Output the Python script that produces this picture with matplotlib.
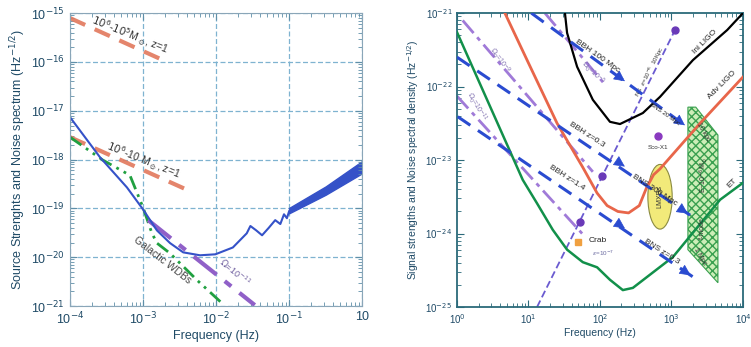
import numpy as np
import matplotlib.pyplot as plt
from matplotlib.patches import Ellipse, Polygon

plt.rcParams['font.family'] = ['Liberation Sans', 'DejaVu Sans']
plt.rcParams['mathtext.fontset'] = 'dejavusans'

# all values as log10(f) / log10(h)

# ---- left panel: LISA band
lisa_logf = [-4.0, -3.59, -3.22, -3.0, -2.81, -2.63, -2.45, -2.22, -2.01, -1.77, -1.58,
             -1.53, -1.45, -1.37, -1.28, -1.19, -1.12, -1.07, -1.03, -1.0]
lisa_logh = [-17.13, -17.95, -18.57, -19.02, -19.45, -19.71, -19.9, -19.96, -19.94, -19.8, -19.51,
             -19.36, -19.45, -19.55, -19.4, -19.24, -19.32, -19.12, -19.2, -19.06]
band_logf = [-1.0, -0.5, 0.0]
band_hi = [-18.99, -18.55, -18.03]
band_lo = [-19.1, -18.72, -18.28]

wdb_logf = [-4.0, -3.55, -3.18, -3.0, -2.88, -2.81, -2.63, -2.26, -1.92]
wdb_logh = [-17.54, -18.01, -18.32, -18.98, -19.5, -19.71, -19.92, -20.47, -20.94]

omega_l_logf = [-2.93, -1.47]
omega_l_logh = [-19.24, -20.98]

smbh_hi_logf = [-4.0, -2.67]
smbh_hi_logh = [-15.1, -16.0]
smbh_lo_logf = [-4.0, -2.38]
smbh_lo_logh = [-17.54, -18.63]

# ---- right panel: ground based band
ini_logf = [1.51, 1.54, 1.68, 1.9, 2.14, 2.28, 2.6, 2.84, 3.3, 3.78, 4.0]
ini_logh = [-21.0, -21.27, -21.73, -22.18, -22.48, -22.51, -22.36, -22.14, -21.64, -21.23, -21.0]

adv_logf = [0.67, 1.0, 1.4, 1.76, 1.96, 2.1, 2.25, 2.4, 2.55, 2.65, 2.75, 2.84, 3.4, 4.0]
adv_logh = [-21.0, -21.68, -22.5, -23.1, -23.45, -23.62, -23.7, -23.72, -23.62, -23.38, -23.2,
            -23.12, -22.5, -21.87]

et_logf = [0.0, 0.92, 1.12, 1.34, 1.54, 1.76, 1.96, 2.14, 2.32, 2.46, 3.02, 3.68, 4.0]
et_logh = [-21.26, -23.27, -23.59, -23.95, -24.22, -24.39, -24.46, -24.63, -24.77, -24.74,
           -24.32, -23.54, -23.31]

bbh100_logf = [1.04, 3.22]
bbh100_logh = [-21.0, -22.55]
bbh03_logf = [0.0, 3.26]
bbh03_logh = [-21.6, -23.75]
bbh14_logf = [0.01, 3.3]
bbh14_logh = [-22.41, -24.59]
arrow_pts = [(2.38, -21.95, bbh100_logf, bbh100_logh), (3.22, -22.55, bbh100_logf, bbh100_logh),
             (2.38, -23.11, bbh03_logf, bbh03_logh), (3.26, -23.75, bbh03_logf, bbh03_logh),
             (2.38, -23.95, bbh14_logf, bbh14_logh), (3.3, -24.59, bbh14_logf, bbh14_logh)]

omega_r = [([0.08, 1.9], [-21.1, -23.16]),
           ([0.0, 1.75], [-22.13, -24.0]),
           ([1.23, 2.05], [-21.0, -21.95])]

ns_logf = [1.12, 3.05]
ns_logh = [-25.0, -21.23]
ns_dot_logf = [3.05, 2.03, 1.72]
ns_dot_logh = [-21.23, -23.22, -23.84]

sco_logf, sco_logh = 2.81, -22.67
crab_logf, crab_logh = 1.69, -24.12
lmxb_logf, lmxb_logh = 2.84, -23.5
fmode_logf = [3.23, 3.34, 3.65, 3.65, 3.23]
fmode_logh = [-22.28, -22.28, -22.66, -24.67, -24.22]


def p(a):
    return np.power(10.0, np.array(a, dtype=float))


tick_col = '#1f4a66'
fig = plt.figure(figsize=(7.51, 3.47), dpi=100)

# ------------------------- left
ax1 = fig.add_axes([0.0932, 0.118, 0.389, 0.844])
ax1.set_xscale('log')
ax1.set_yscale('log')
ax1.set_xlim(1e-4, 1)
ax1.set_ylim(1e-21, 1e-15)
for lv in range(-4, 1):
    ax1.axvline(10.0 ** lv, color='#7fb3d0', lw=0.9, ls=(0, (4, 2)), zorder=0)
for lv in range(-21, -14):
    ax1.axhline(10.0 ** lv, color='#7fb3d0', lw=0.9, ls=(0, (4, 2)), zorder=0)

ax1.plot(p(smbh_hi_logf), p(smbh_hi_logh), color='#e2785c', lw=3, dashes=(4, 2.5), alpha=0.9)
ax1.plot(p(smbh_lo_logf), p(smbh_lo_logh), color='#e2785c', lw=3, dashes=(4, 2.5), alpha=0.9)
ax1.plot(p(wdb_logf), p(wdb_logh), color='#20a040', lw=2, dashes=(5, 2, 1, 2, 1, 2))
ax1.plot(p(omega_l_logf), p(omega_l_logh), color='#9060c8', lw=3, dashes=(7, 2.5, 2, 2.5))
ax1.plot(p(lisa_logf), p(lisa_logh), color='#3552c8', lw=1.5)
ax1.fill_between(p(band_logf), p(band_lo), p(band_hi), color='#3552c8', lw=1)

ax1.text(p(-3.18), p(-15.45), r'$10^6$-$10^5$M$_\odot$, z=1', fontsize=7.5, rotation=-22,
         ha='center', va='center', color='#333333')
ax1.text(p(-3.0), p(-18.01), r'$10^6$-10 M$_\odot$, z=1', fontsize=7.5, rotation=-22,
         ha='center', va='center', color='#333333')
ax1.text(p(-2.73), p(-20.06), 'Galactic WDBs', fontsize=7.5, rotation=-38,
         ha='center', va='center', color='#444444')
ax1.text(p(-1.74), p(-20.31), r'$\Omega$=10$^{-11}$', fontsize=6.5, rotation=-40,
         ha='center', va='center', color='#7060a0')

ax1.set_xticks([1e-4, 1e-3, 1e-2, 1e-1, 1])
ax1.set_xticklabels(['10$^{-4}$', '10$^{-3}$', '10$^{-2}$', '10$^{-1}$', '10'])
ax1.set_yticks([10.0 ** k for k in range(-21, -14)])
ax1.set_yticklabels(['10$^{%d}$' % k for k in range(-21, -14)])
ax1.tick_params(which='both', direction='in', top=True, right=True, colors='#5f8fa8',
                labelcolor=tick_col, labelsize=9)
ax1.tick_params(which='major', length=5)
ax1.tick_params(which='minor', length=3)
for s in ax1.spines.values():
    s.set_color('#8aa6b8')
ax1.set_xlabel('Frequency (Hz)', fontsize=9, color=tick_col, labelpad=2)
ax1.set_ylabel('Source Strenghts and Noise spectrum (Hz$^{-1/2}$)', fontsize=9,
               color=tick_col, labelpad=2)

# ------------------------- right
ax2 = fig.add_axes([0.6085, 0.1153, 0.3808, 0.847])
ax2.set_xscale('log')
ax2.set_yscale('log')
ax2.set_xlim(1, 1e4)
ax2.set_ylim(1e-25, 1e-21)

blue = '#2a4bd0'
purple = '#a07ad8'
for lf, lh in omega_r:
    ax2.plot(p(lf), p(lh), color=purple, lw=2, dashes=(6, 2, 1.5, 2))
ax2.plot(p(ns_logf), p(ns_logh), color='#6a5ad0', lw=1.3, dashes=(4, 2))
ax2.plot(p(ns_dot_logf), p(ns_dot_logh), 'o', color='#6a3ab8', ms=5)

fm = Polygon(list(zip(p(fmode_logf), p(fmode_logh))), closed=True, facecolor='#cdeeb8',
             edgecolor='#3aa050', hatch='xxxx', lw=0.8, zorder=2)
ax2.add_patch(fm)
ax2.add_patch(Ellipse((lmxb_logf / 4.0, (lmxb_logh + 25) / 4.0), 0.085, 0.22,
                      transform=ax2.transAxes, facecolor='#f2ea7a', edgecolor='#8a8a40',
                      lw=0.8, zorder=3))

ax2.plot(p(ini_logf), p(ini_logh), color='black', lw=1.6, zorder=4)
ax2.plot(p(adv_logf), p(adv_logh), color='#e8664a', lw=2, zorder=4)
ax2.plot(p(et_logf), p(et_logh), color='#12904a', lw=1.8, zorder=4)

for lf, lh in [(bbh100_logf, bbh100_logh), (bbh03_logf, bbh03_logh), (bbh14_logf, bbh14_logh)]:
    ax2.plot(p(lf), p(lh), color=blue, lw=2.2, dashes=(5, 3), zorder=5)
for x, y, lf, lh in arrow_pts:
    slope = (lh[1] - lh[0]) / (lf[1] - lf[0])
    ax2.annotate('', xy=(p(x), p(y)), xytext=(p(x - 0.08), p(y - 0.08 * slope)),
                 arrowprops=dict(arrowstyle='-|>,head_length=0.7,head_width=0.35',
                                 color=blue, lw=0.5), zorder=6)

ax2.plot(p(sco_logf), p(sco_logh), 'o', color='#8a3ac0', ms=5)
ax2.plot(p(crab_logf), p(crab_logh), 's', color='#f0a040', ms=4.5)

fs = 6
txt = dict(ha='center', va='center', fontsize=fs, color='#222222', zorder=7)
ax2.text(p(1.97), p(-21.58), 'BBH 100 Mpc', rotation=-35, **txt)
ax2.text(p(2.91), p(-22.38), 'BNS 20 Mpc', rotation=-35, ha='center', va='center',
         fontsize=4.5, color='#222222', zorder=7)
ax2.text(p(1.82), p(-22.66), 'BBH z=0.3', rotation=-33, **txt)
ax2.text(p(2.77), p(-23.41), 'BNS 300 Mpc', rotation=-33, **txt)
ax2.text(p(1.54), p(-23.24), 'BBH z=1.4', rotation=-33, **txt)
ax2.text(p(2.87), p(-24.25), 'BNS z=0.3', rotation=-33, **txt)
ax2.text(p(3.47), p(-21.39), 'Ini LIGO', rotation=45, **txt)
ax2.text(p(3.71), p(-21.98), 'Adv LIGO', rotation=45, **txt)
ax2.text(p(3.85), p(-23.31), 'ET', rotation=45, **txt)
ax2.text(p(2.81), p(-22.83), 'Sco-X1', ha='center', va='center', fontsize=4.5, color='#333333')
ax2.text(p(1.97), p(-24.1), 'Crab', ha='center', va='center', fontsize=6, color='#222222')
ax2.text(p(2.04), p(-24.27), r'$\epsilon$=10$^{-7}$', ha='center', va='center', fontsize=4.5,
         color='#6a6aa0')
ax2.text(p(2.7), p(-21.8), r'NS  $\epsilon$=10$^{-6}$  10Kpc', rotation=63, ha='center',
         va='center', fontsize=4.5, color='#333333')
ax2.text(p(lmxb_logf), p(lmxb_logh), 'LMXBs', rotation=90, ha='center', va='center',
         fontsize=5, color='#333333', zorder=4)
ax2.text(p(3.45), p(-23.2), r'E~10$^{-6}$M$_\odot$', rotation=90, ha='center', va='center',
         fontsize=5, color='#333333', zorder=4)
ax2.text(p(3.43), p(-23.93), 'f-mode', rotation=90, ha='center', va='center',
         fontsize=5, color='#333333', zorder=4)
ax2.text(p(3.4), p(-24.32), '1 Mpc', rotation=-60, ha='center', va='center',
         fontsize=5, color='#333333', zorder=4)
ax2.text(p(3.44), p(-22.62), '10 kpc', rotation=-60, ha='center', va='center',
         fontsize=5, color='#333333', zorder=4)
otxt = dict(ha='center', va='center', fontsize=5, color='#8070b0')
ax2.text(p(0.6), p(-21.64), r'$\Omega_0$=10$^{-9}$', rotation=-55, **otxt)
ax2.text(p(0.28), p(-22.28), r'$\Omega_0$=10$^{-11}$', rotation=-60, **otxt)
ax2.text(p(1.9), p(-21.82), r'$\Omega_0$=10$^{-5}$', rotation=-45, **otxt)

ax2.set_xticks([1, 10, 100, 1e3, 1e4])
ax2.set_xticklabels(['10$^0$', '10$^1$', '10$^2$', '10$^3$', '10$^4$'])
ax2.set_yticks([10.0 ** k for k in range(-25, -20)])
ax2.set_yticklabels(['10$^{%d}$' % k for k in range(-25, -20)])
ax2.tick_params(which='both', direction='in', top=True, right=True, colors='#2b6a7a',
                labelcolor=tick_col, labelsize=7)
ax2.tick_params(which='major', length=5)
ax2.tick_params(which='minor', length=3)
for s in ax2.spines.values():
    s.set_color('#2b6a7a')
    s.set_linewidth(1.3)
ax2.set_xlabel('Frequency (Hz)', fontsize=7.5, color=tick_col, labelpad=2)
ax2.set_ylabel('Signal strengths and Noise spectral density (Hz$^{-1/2}$)', fontsize=7.5,
               color=tick_col, labelpad=3)

fig.savefig('out.png', dpi=100)
